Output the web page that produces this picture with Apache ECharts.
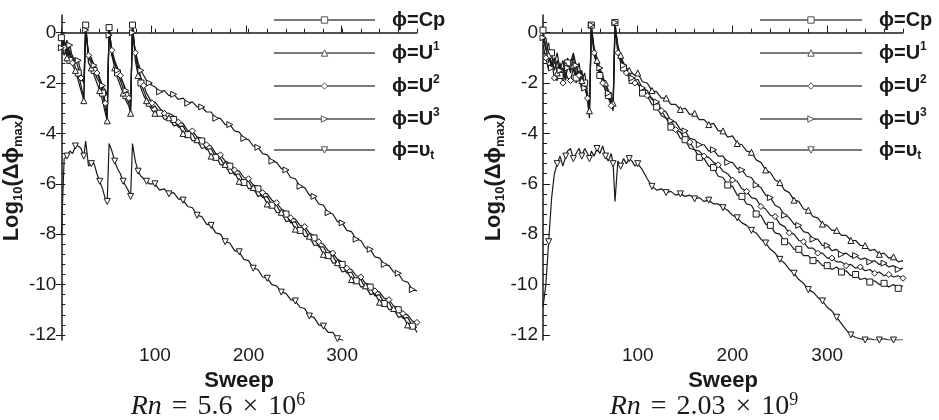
<!DOCTYPE html>
<html>
<head>
<meta charset="utf-8">
<script src="https://cdn.jsdelivr.net/npm/echarts@6/dist/echarts.min.js"></script>
<style>
  html, body { margin: 0; padding: 0; background: #fff; }
  #chart { width: 939px; height: 420px; }
</style>
</head>
<body>
<div id="chart"></div>
<script>
// sweep positions shared by every curve (dense around the restarts, every 5 later)
const sweeps = [0,3,6,9,12,15,18,21,24,26,29,32,35,38,41,44,47,49,51,54,57,60,63,66,69,72,74,76,79,82,85,88,91,94,97,
  100,105,110,115,120,125,130,135,140,145,150,155,160,165,170,175,180,185,190,195,200,205,210,215,220,225,230,235,240,
  245,250,255,260,265,270,275,280,285,290,295,300,305,310,315,320,325,330,335,340,345,350,355,360,365,370,375,380]

// Rn = 5.6e6 (left panel), log10 of max residual
const leftCp = [-0.2,-0.9,-0.6,-1.1,-0.9,-1.4,-1.6,-2.1,-2.6,0.3,-1.0,-1.2,-1.5,-1.8,-2.0,-2.4,-3.0,-3.4,0.2,-0.8,-1.2,-1.6,-1.9,-2.2,-2.5,-2.8,-3.1,0.3,-0.9,-1.5,-2.0,-2.3,-2.6,-2.8,-3.0,
  -2.9,-3.2,-3.2,-3.45,-3.45,-3.75,-3.7,-4.05,-4.0,-4.35,-4.3,-4.65,-4.6,-4.95,-5.0,-5.3,-5.3,-5.65,-5.6,-5.95,-5.9,-6.25,-6.2,-6.55,-6.5,-6.85,-6.85,-7.2,-7.2,-7.55,-7.5,-7.85,-7.8,-8.15,-8.15,-8.5,-8.5,-8.85,-8.85,-9.2,-9.2,-9.55,-9.5,-9.85,-9.8,-10.15,-10.1,-10.45,-10.4,-10.75,-10.7,-11.05,-11.0,-11.35,-11.3,-11.65,-11.7]
const leftU1 = [-0.5,-0.3,-1.0,-0.7,-1.3,-1.5,-1.9,-2.3,-2.7,0.4,-1.2,-1.4,-1.7,-2.0,-2.3,-2.7,-3.2,-3.5,0.3,-0.9,-1.4,-1.8,-2.1,-2.4,-2.7,-2.9,-3.2,0.4,-1.1,-1.7,-2.2,-2.5,-2.7,-2.9,-3.1,
  -3.2,-3.13,-3.45,-3.38,-3.7,-3.65,-4.0,-3.95,-4.3,-4.25,-4.6,-4.55,-4.9,-4.88,-5.25,-5.23,-5.6,-5.55,-5.9,-5.85,-6.2,-6.15,-6.5,-6.45,-6.8,-6.78,-7.15,-7.13,-7.5,-7.45,-7.8,-7.75,-8.1,-8.08,-8.45,-8.43,-8.8,-8.78,-9.15,-9.13,-9.5,-9.45,-9.8,-9.75,-10.1,-10.05,-10.4,-10.35,-10.7,-10.65,-11.0,-10.95,-11.3,-11.25,-11.6,-11.55,-11.9]
const leftU2 = [0.0,-0.6,-0.3,-0.9,-1.2,-1.0,-1.4,-1.8,-2.0,0.2,-0.9,-1.1,-1.3,-1.6,-1.9,-2.2,-2.8,-3.3,0.1,-0.7,-1.1,-1.4,-1.7,-2.0,-2.3,-2.6,-2.9,0.2,-0.8,-1.3,-1.8,-2.1,-2.4,-2.6,-2.8,
  -2.75,-3.0,-3.2,-3.2,-3.3,-3.55,-3.6,-3.9,-3.9,-4.15,-4.2,-4.45,-4.5,-4.8,-4.85,-5.1,-5.2,-5.45,-5.5,-5.75,-5.8,-6.05,-6.1,-6.35,-6.4,-6.65,-6.75,-7.0,-7.1,-7.35,-7.4,-7.65,-7.7,-7.95,-8.05,-8.3,-8.4,-8.65,-8.75,-9.0,-9.1,-9.35,-9.4,-9.65,-9.7,-9.95,-10.0,-10.25,-10.3,-10.55,-10.6,-10.85,-10.9,-11.15,-11.2,-11.45,-11.5]
const leftU3 = [-0.6,-0.3,-0.9,-0.5,-1.0,-1.2,-1.1,-1.6,-2.0,0.1,-0.8,-1.0,-1.3,-1.5,-1.8,-2.1,-2.3,-2.5,-0.1,-0.9,-1.2,-1.5,-1.8,-2.0,-2.3,-2.6,-2.7,0.0,-0.7,-1.2,-1.5,-1.7,-1.9,-2.0,-2.1,
  -2.15,-2.35,-2.3,-2.5,-2.45,-2.65,-2.6,-2.8,-2.75,-2.95,-2.95,-3.15,-3.15,-3.4,-3.4,-3.65,-3.65,-3.9,-3.95,-4.2,-4.25,-4.5,-4.55,-4.8,-4.85,-5.1,-5.15,-5.4,-5.45,-5.75,-5.8,-6.1,-6.15,-6.45,-6.5,-6.8,-6.85,-7.15,-7.2,-7.5,-7.55,-7.85,-7.9,-8.2,-8.25,-8.55,-8.6,-8.9,-8.95,-9.2,-9.25,-9.5,-9.55,-9.85,-9.9,-10.2,-10.25]
const leftVt = [-8.0,-5.0,-4.9,-4.7,-4.8,-4.5,-4.5,-4.6,-4.9,-4.3,-5.3,-5.2,-5.2,-5.6,-5.9,-6.2,-6.6,-6.7,-4.4,-4.7,-5.1,-5.4,-5.6,-5.9,-6.1,-6.3,-6.5,-4.4,-5.1,-5.5,-5.7,-5.8,-5.9,-6.0,-6.0,
  -6.0,-6.25,-6.2,-6.4,-6.35,-6.6,-6.65,-6.9,-6.95,-7.25,-7.3,-7.6,-7.65,-7.95,-8.0,-8.3,-8.35,-8.65,-8.7,-9.0,-9.05,-9.35,-9.4,-9.7,-9.75,-10.0,-10.05,-10.3,-10.35,-10.6,-10.65,-10.9,-10.95,-11.25,-11.3,-11.6,-11.65,-11.9,-11.9,-12.15,-12.2,-12.4,
  null,null,null,null,null,null,null,null,null,null,null,null,null,null,null]

// Rn = 2.03e9 (right panel)
const rightCp = [0.1,-0.6,-1.2,-0.8,-1.5,-1.1,-1.7,-1.4,-1.9,-1.2,-1.6,-0.9,-1.8,-1.5,-2.2,-2.0,-2.7,-3.4,0.3,-0.9,-1.3,-1.7,-1.9,-2.3,-2.5,-2.8,-3.0,0.4,-0.6,-1.1,-1.4,-1.5,-1.7,-1.9,-2.0,
  -2.0,-2.4,-2.5,-2.85,-2.95,-3.3,-3.4,-3.75,-3.85,-4.2,-4.25,-4.6,-4.65,-4.95,-5.0,-5.3,-5.35,-5.7,-5.75,-6.05,-6.1,-6.45,-6.5,-6.8,-6.85,-7.2,-7.25,-7.6,-7.65,-7.95,-8.0,-8.3,-8.35,-8.6,-8.6,-8.85,-8.85,-9.05,-9.05,-9.25,-9.25,-9.4,-9.3,-9.5,-9.45,-9.65,-9.6,-9.8,-9.75,-9.9,-9.85,-10.0,-9.95,-10.1,-10.0,-10.15,-10.05]
const rightU1 = [-0.3,-0.2,-0.9,-1.3,-1.0,-1.6,-1.2,-1.8,-1.3,-1.0,-1.5,-1.3,-1.7,-1.2,-1.9,-1.6,-2.4,-3.1,0.2,-0.7,-1.1,-1.5,-1.8,-2.0,-2.3,-2.6,-2.8,0.3,-0.5,-0.9,-1.2,-1.4,-1.5,-1.6,-1.7,
  -1.6,-1.95,-2.0,-2.3,-2.35,-2.6,-2.6,-2.85,-2.85,-3.05,-3.0,-3.25,-3.2,-3.45,-3.45,-3.65,-3.6,-3.9,-3.9,-4.15,-4.1,-4.4,-4.45,-4.7,-4.75,-5.05,-5.15,-5.45,-5.55,-5.85,-5.95,-6.25,-6.35,-6.65,-6.7,-7.0,-7.05,-7.3,-7.35,-7.6,-7.65,-7.85,-7.85,-8.05,-8.05,-8.25,-8.25,-8.45,-8.45,-8.65,-8.6,-8.8,-8.75,-8.95,-8.9,-9.1,-9.05]
const rightU2 = [-0.5,-1.0,-1.5,-1.1,-1.8,-1.9,-1.4,-2.0,-1.6,-1.8,-1.9,-1.4,-2.0,-1.7,-2.3,-2.1,-2.6,-3.2,0.1,-0.8,-1.2,-1.6,-2.0,-2.3,-2.6,-2.9,-3.1,0.2,-0.8,-1.2,-1.5,-1.6,-1.8,-1.9,-2.0,
  -2.05,-2.2,-2.5,-2.6,-2.95,-3.1,-3.4,-3.5,-3.85,-3.95,-4.25,-4.35,-4.65,-4.7,-4.9,-4.95,-5.15,-5.25,-5.5,-5.6,-5.85,-5.9,-6.2,-6.3,-6.55,-6.6,-6.9,-7.0,-7.25,-7.3,-7.6,-7.7,-7.95,-8.0,-8.25,-8.3,-8.55,-8.55,-8.75,-8.75,-8.95,-8.95,-9.1,-9.1,-9.25,-9.2,-9.35,-9.3,-9.45,-9.4,-9.55,-9.5,-9.65,-9.6,-9.7,-9.65,-9.75]
const rightU3 = [-0.2,-0.7,-0.4,-1.4,-1.2,-0.8,-1.5,-1.1,-1.7,-1.4,-1.2,-0.8,-1.3,-1.9,-1.5,-2.2,-2.5,-2.9,0.3,-0.6,-1.0,-1.4,-1.7,-2.1,-2.4,-2.7,-2.9,0.4,-0.7,-1.0,-1.3,-1.5,-1.6,-1.8,-1.9,
  -1.85,-2.2,-2.3,-2.65,-2.75,-3.05,-3.15,-3.5,-3.55,-3.85,-3.9,-4.2,-4.25,-4.45,-4.45,-4.7,-4.65,-4.9,-4.9,-5.15,-5.15,-5.4,-5.45,-5.7,-5.75,-6.05,-6.15,-6.45,-6.55,-6.85,-6.95,-7.25,-7.35,-7.6,-7.65,-7.9,-7.95,-8.2,-8.2,-8.45,-8.45,-8.65,-8.6,-8.8,-8.75,-8.9,-8.85,-9.0,-8.95,-9.1,-9.05,-9.2,-9.15,-9.3,-9.25,-9.4,-9.35]
const rightVt = [-10.9,-10.0,-8.3,-6.6,-5.6,-5.2,-4.9,-5.3,-4.9,-4.7,-4.6,-5.0,-4.8,-4.6,-4.9,-4.6,-4.8,-5.0,-4.7,-4.9,-4.6,-4.8,-4.5,-4.9,-5.1,-4.8,-5.2,-6.7,-5.1,-5.3,-5.0,-5.2,-5.0,-5.1,-5.3,
  -5.2,-5.45,-5.8,-6.1,-6.25,-6.2,-6.35,-6.3,-6.45,-6.4,-6.5,-6.45,-6.6,-6.55,-6.7,-6.65,-6.8,-6.8,-6.95,-7.05,-7.25,-7.35,-7.55,-7.65,-7.85,-7.95,-8.2,-8.35,-8.6,-8.75,-9.0,-9.15,-9.4,-9.55,-9.8,-9.95,-10.2,-10.3,-10.5,-10.65,-10.9,-11.05,-11.3,-11.55,-11.8,-12.0,-12.1,-12.15,-12.2,-12.15,-12.2,-12.2,-12.15,-12.2,-12.2,-12.2,-12.2]

// tick values
const xLabels = [100, 200, 300]
const xMinorTicks = [0,20,40,60,80,100,120,140,160,180,200,220,240,260,280,300,320,340,360,380]
const yLabels = [-12, -10, -8, -6, -4, -2, 0]
const yMinorTicks = [-12,-11.6,-11.2,-10.8,-10.4,-10,-9.6,-9.2,-8.8,-8.4,-8,-7.6,-7.2,-6.8,-6.4,-6,-5.6,-5.2,-4.8,-4.4,-4,-3.6,-3.2,-2.8,-2.4,-2,-1.6,-1.2,-0.8,-0.4,0,0.4]

const FONT = 'Liberation Sans, Arial, sans-serif'
const SERIF = 'Liberation Serif, Times New Roman, serif'
const INK = '#1a1a1a'

const shapes = {
  Cp : { symbol : 'rect', rotate : 0, offset : 0 },
  U1 : { symbol : 'triangle', rotate : 0, offset : 1 },
  U2 : { symbol : 'diamond', rotate : 0, offset : 2 },
  U3 : { symbol : 'triangle', rotate : -90, offset : 0 },
  vt : { symbol : 'triangle', rotate : 180, offset : 1 }
}

const buildData = ( values, offset ) => {
  const out = []
  sweeps.forEach( ( s, i ) => {
    if ( values[i] === null ) return
    const item = { value : [s, values[i]] }
    if ( ( i + offset ) % 3 !== 0 ) item.symbol = 'none'
    out.push( item )
  } )
  return out
}

const makeSeries = ( name, values, axis ) => ( {
  name,
  type : 'line',
  xAxisIndex : axis,
  yAxisIndex : axis,
  data : buildData( values, shapes[name].offset ),
  symbol : shapes[name].symbol,
  symbolRotate : shapes[name].rotate,
  symbolSize : 6,
  showAllSymbol : true,
  animation : false,
  lineStyle : { color : INK, width : 1.2 },
  itemStyle : { color : '#fff', borderColor : INK, borderWidth : 1 },
  emphasis : { disabled : true }
} )

const grids = [
  { left : 56, top : 15, width : 361, height : 325 },
  { left : 543, top : 15, width : 360, height : 325 }
]

const mainX = ( g ) => ( {
  type : 'value', gridIndex : g, min : 0, max : 380,
  axisLine : { lineStyle : { color : INK, width : 1.5 } },
  axisTick : { inside : true, length : 4, customValues : xMinorTicks, lineStyle : { color : INK } },
  axisLabel : { customValues : xLabels, fontSize : 19, color : INK, fontFamily : FONT, margin : 6 },
  splitLine : { show : false },
  name : 'Sweep', nameLocation : 'middle', nameGap : 20,
  nameTextStyle : { fontSize : 22, fontWeight : 'bold', color : INK, fontFamily : FONT }
} )
const mainY = ( g ) => ( {
  type : 'value', gridIndex : g, min : -12.2, max : 0.7,
  axisLine : { lineStyle : { color : INK, width : 1.5 } },
  axisTick : { inside : true, length : 4, customValues : yMinorTicks, lineStyle : { color : INK } },
  axisLabel : { customValues : yLabels, fontSize : 19, color : INK, fontFamily : FONT, margin : 5 },
  splitLine : { show : false },
  name : '{b|Log}{s|10}{b|(Δϕ}{s|max}{b|)}', nameLocation : 'middle', nameRotate : 90, nameGap : 30,
  nameTextStyle : {
    color : INK,
    rich : {
      b : { fontSize : 22, fontWeight : 'bold', fontFamily : FONT, color : INK, lineHeight : 26 },
      s : { fontSize : 13, fontWeight : 'bold', fontFamily : FONT, color : INK, verticalAlign : 'bottom', lineHeight : 26 }
    }
  }
} )
// overlay axes that only carry the longer major ticks
const majorX = ( g ) => ( {
  type : 'value', gridIndex : g, min : 0, max : 380,
  axisLine : { show : false },
  axisTick : { inside : true, length : 7, customValues : xLabels, lineStyle : { color : INK } },
  axisLabel : { show : false }, splitLine : { show : false }
} )
const majorY = ( g ) => ( {
  type : 'value', gridIndex : g, min : -12.2, max : 0.7,
  axisLine : { show : false },
  axisTick : { inside : true, length : 7, customValues : yLabels, lineStyle : { color : INK } },
  axisLabel : { show : false }, splitLine : { show : false }
} )

const legendNames = {
  Cp : '{sp|}{b|ϕ=Cp}',
  U1 : '{sp|}{b|ϕ=U}{sup|1}',
  U2 : '{sp|}{b|ϕ=U}{sup|2}',
  U3 : '{sp|}{b|ϕ=U}{sup|3}',
  vt : '{sp|}{b|ϕ=υ}{sub|t}'
}
const makeLegend = ( left, width ) => ( {
  left, top : 10, orient : 'vertical', padding : 0,
  itemWidth : width, itemHeight : 8, itemGap : 11,
  selectedMode : false,
  data : ['Cp', 'U1', 'U2', 'U3', 'vt'],
  formatter : ( n ) => legendNames[n],
  lineStyle : { color : '#7a7a7a', width : 2 },
  itemStyle : { color : '#fff', borderColor : '#555', borderWidth : 1 },
  textStyle : {
    rich : {
      sp : { width : 12, lineHeight : 24 },
      b : { fontSize : 20, fontWeight : 'bold', fontFamily : FONT, color : INK, lineHeight : 24 },
      sup : { fontSize : 12, fontWeight : 'bold', fontFamily : FONT, color : INK, verticalAlign : 'top', lineHeight : 24 },
      sub : { fontSize : 12, fontWeight : 'bold', fontFamily : FONT, color : INK, verticalAlign : 'bottom', lineHeight : 24 }
    }
  }
} )

const caption = ( x, mant, expo ) => ( {
  type : 'text', x, y : 407,
  style : {
    text : '{i|Rn}{o|=}{n|' + mant + '}{o|×}{n|10}{s|' + expo + '}',
    align : 'center', verticalAlign : 'middle',
    rich : {
      i : { fontSize : 28, fontStyle : 'italic', fontFamily : SERIF, fill : INK, lineHeight : 32 },
      o : { fontSize : 28, fontFamily : SERIF, fill : INK, padding : [0, 10, 0, 10], lineHeight : 32 },
      n : { fontSize : 28, fontFamily : SERIF, fill : INK, lineHeight : 32 },
      s : { fontSize : 18, fontFamily : SERIF, fill : INK, verticalAlign : 'top', lineHeight : 32 }
    }
  }
} )

const chart = echarts.init( document.getElementById( 'chart' ), null, { renderer : 'canvas' } )
chart.setOption( {
  backgroundColor : '#fff',
  animation : false,
  grid : [grids[0], grids[1], grids[0], grids[1]],
  xAxis : [mainX( 0 ), mainX( 1 ), majorX( 2 ), majorX( 3 )],
  yAxis : [mainY( 0 ), mainY( 1 ), majorY( 2 ), majorY( 3 )],
  legend : [makeLegend( 273, 101 ), makeLegend( 759, 102 )],
  series : [
    makeSeries( 'Cp', leftCp, 0 ),
    makeSeries( 'U1', leftU1, 0 ),
    makeSeries( 'U2', leftU2, 0 ),
    makeSeries( 'U3', leftU3, 0 ),
    makeSeries( 'vt', leftVt, 0 ),
    makeSeries( 'Cp', rightCp, 1 ),
    makeSeries( 'U1', rightU1, 1 ),
    makeSeries( 'U2', rightU2, 1 ),
    makeSeries( 'U3', rightU3, 1 ),
    makeSeries( 'vt', rightVt, 1 )
  ],
  graphic : [caption( 218, '5.6', '6' ), caption( 704, '2.03', '9' )]
} )
</script>
</body>
</html>
